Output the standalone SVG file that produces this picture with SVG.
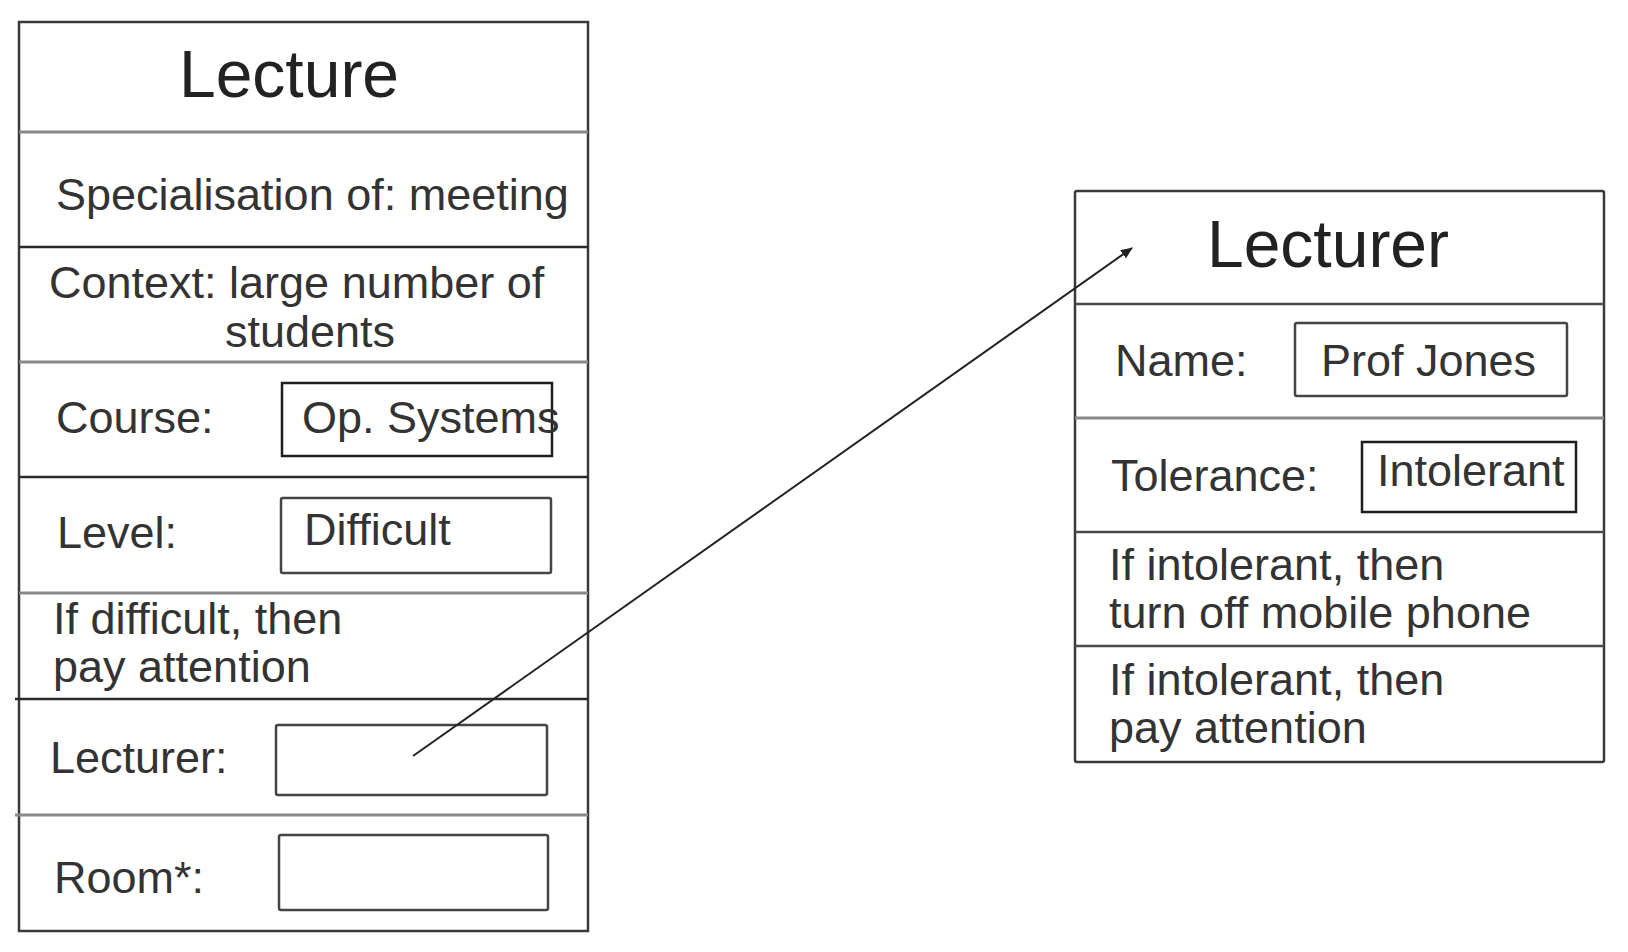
<svg xmlns="http://www.w3.org/2000/svg" width="1628" height="952" viewBox="0 0 1628 952">
<style>
  .frame{fill:#fff;stroke:#3a3a3a;stroke-width:2.5}
  .dark{stroke:#2a2a2a;stroke-width:2.5;fill:none}
  .grey{stroke:#8a8a8a;stroke-width:3;fill:none}
  .mid{stroke:#4a4a4a;stroke-width:2.5;fill:none}
  .field{fill:#fff;stroke:#444;stroke-width:2.5}
  .fieldDark{fill:none;stroke:#1e1e1e;stroke-width:2.5}
  text{font-family:"Liberation Sans",Arial,sans-serif;fill:#333}
  .title{font-size:66px;fill:#222}
  .body{font-size:45px}
  .conn{stroke:#222;stroke-width:2;fill:none}
</style>
<defs>
  <marker id="arrow" viewBox="0 0 12 10" refX="11" refY="5" markerWidth="12" markerHeight="10" markerUnits="userSpaceOnUse" orient="auto">
    <path d="M0,0 L12,5 L0,10 z" fill="#222"/>
  </marker>
</defs>
<rect width="1628" height="952" fill="#fff"/>

<g id="lecture">
  <rect class="frame" x="19" y="22" width="569" height="909"/>
  <line class="grey" x1="19" y1="132" x2="588" y2="132"/>
  <line class="dark" x1="19" y1="247" x2="588" y2="247"/>
  <line class="grey" x1="19" y1="362" x2="588" y2="362"/>
  <line class="dark" x1="19" y1="477" x2="588" y2="477"/>
  <line class="grey" x1="19" y1="593" x2="588" y2="593"/>
  <line class="dark" x1="15" y1="699" x2="588" y2="699"/>
  <line class="grey" x1="15" y1="815" x2="588" y2="815"/>
  <text class="title" x="289" y="97" text-anchor="middle">Lecture</text>
  <text class="body" x="56" y="210">Specialisation of: meeting</text>
  <text class="body" x="49" y="298">Context: large number of</text>
  <text class="body" x="225" y="347">students</text>
  <text class="body" x="56" y="433">Course:</text>
  <rect class="fieldDark" x="282" y="383" width="270" height="73"/>
  <text class="body" x="302" y="433">Op. Systems</text>
  <text class="body" x="57" y="548">Level:</text>
  <rect class="field" x="281" y="498" width="270" height="75" rx="2"/>
  <text class="body" x="304" y="545">Difficult</text>
  <text class="body" x="53" y="634">If difficult, then</text>
  <text class="body" x="53" y="682">pay attention</text>
  <text class="body" x="50" y="773">Lecturer:</text>
  <rect class="field" x="276" y="725" width="271" height="70" rx="2"/>
  <text class="body" x="54" y="893">Room*:</text>
  <rect class="field" x="279" y="835" width="269" height="75" rx="2"/>
</g>

<g id="lecturer">
  <rect class="frame" x="1075" y="191" width="529" height="571" rx="2"/>
  <line class="mid" x1="1075" y1="304" x2="1604" y2="304"/>
  <line class="grey" x1="1075" y1="418" x2="1604" y2="418"/>
  <line class="mid" x1="1075" y1="532" x2="1604" y2="532"/>
  <line class="mid" x1="1075" y1="646" x2="1604" y2="646"/>
  <text class="title" x="1328" y="267" text-anchor="middle">Lecturer</text>
  <text class="body" x="1115" y="376">Name:</text>
  <rect class="field" x="1295" y="323" width="272" height="73" rx="2"/>
  <text class="body" x="1321" y="376">Prof Jones</text>
  <text class="body" x="1111" y="491">Tolerance:</text>
  <rect class="fieldDark" x="1362" y="442" width="214" height="70"/>
  <text class="body" x="1377" y="486">Intolerant</text>
  <text class="body" x="1109" y="580">If intolerant, then</text>
  <text class="body" x="1109" y="628">turn off mobile phone</text>
  <text class="body" x="1109" y="695">If intolerant, then</text>
  <text class="body" x="1109" y="743">pay attention</text>
</g>

<g id="connectors">
  <line class="conn" x1="413" y1="756" x2="1132" y2="248" marker-end="url(#arrow)"/>
</g>
</svg>
